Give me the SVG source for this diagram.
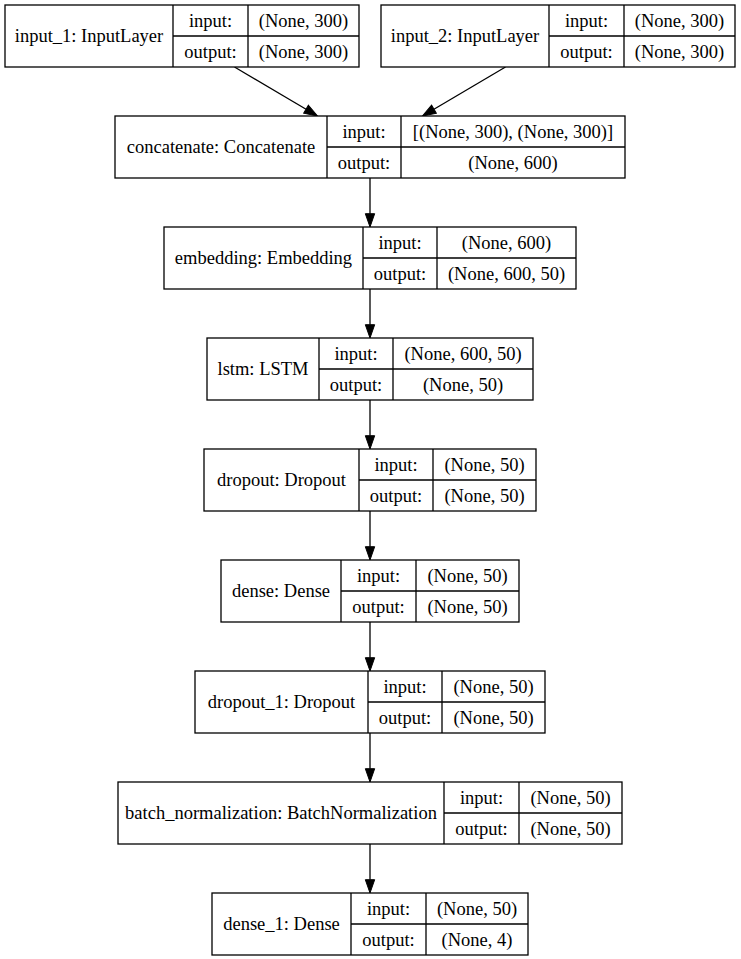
<svg xmlns="http://www.w3.org/2000/svg" width="741" height="959" viewBox="0 0 741 959">
<style>
  .box { fill: #fff; stroke: #000; stroke-width: 1.3; }
  .div { stroke: #000; stroke-width: 1.3; fill: none; }
  .edge { stroke: #000; stroke-width: 1.3; fill: none; marker-end: url(#arrow); }
</style>
<defs>
  <marker id="arrow" markerUnits="userSpaceOnUse" markerWidth="14" markerHeight="10" refX="0" refY="4.67" orient="auto" overflow="visible">
    <path d="M0,0 L13.3,4.67 L0,9.33 z" fill="#000" stroke="#000" stroke-width="1"/>
  </marker>
</defs>
<rect width="741" height="959" fill="#fff"/>

<g id="connectors">
  <line class="edge" x1="234.5" y1="67" x2="306.05" y2="109.24"/>
  <line class="edge" x1="505.5" y1="67" x2="433.95" y2="109.24"/>
  <line class="edge" x1="370" y1="178" x2="370" y2="213.7"/>
  <line class="edge" x1="370" y1="289" x2="370" y2="324.7"/>
  <line class="edge" x1="370" y1="400" x2="370" y2="435.7"/>
  <line class="edge" x1="370" y1="511" x2="370" y2="546.7"/>
  <line class="edge" x1="370" y1="622" x2="370" y2="657.7"/>
  <line class="edge" x1="370" y1="733" x2="370" y2="768.7"/>
  <line class="edge" x1="370" y1="844" x2="370" y2="879.7"/>
</g>

<g font-family="Liberation Serif, serif" font-size="18.5" fill="#000" text-anchor="middle">
<g id="input_1">
  <rect class="box" x="5" y="5" width="354" height="62"/>
  <path class="div" d="M173,5 V67 M248,5 V67 M173,36 H359"/>
  <text x="89" y="42">input_1: InputLayer</text>
  <text x="210.5" y="26.5">input:</text>
  <text x="210.5" y="57.5">output:</text>
  <text x="303.5" y="26.5">(None, 300)</text>
  <text x="303.5" y="57.5">(None, 300)</text>
</g>

<g id="input_2">
  <rect class="box" x="381" y="5" width="354" height="62"/>
  <path class="div" d="M549,5 V67 M624,5 V67 M549,36 H735"/>
  <text x="465" y="42">input_2: InputLayer</text>
  <text x="586.5" y="26.5">input:</text>
  <text x="586.5" y="57.5">output:</text>
  <text x="679.5" y="26.5">(None, 300)</text>
  <text x="679.5" y="57.5">(None, 300)</text>
</g>

<g id="concatenate">
  <rect class="box" x="115" y="116" width="510" height="62"/>
  <path class="div" d="M327,116 V178 M401,116 V178 M327,147 H625"/>
  <text x="221" y="153">concatenate: Concatenate</text>
  <text x="364" y="137.5">input:</text>
  <text x="364" y="168.5">output:</text>
  <text x="513" y="137.5">[(None, 300), (None, 300)]</text>
  <text x="513" y="168.5">(None, 600)</text>
</g>

<g id="embedding">
  <rect class="box" x="164" y="227" width="412" height="62"/>
  <path class="div" d="M363,227 V289 M437,227 V289 M363,258 H576"/>
  <text x="263.5" y="264">embedding: Embedding</text>
  <text x="400" y="248.5">input:</text>
  <text x="400" y="279.5">output:</text>
  <text x="506.5" y="248.5">(None, 600)</text>
  <text x="506.5" y="279.5">(None, 600, 50)</text>
</g>

<g id="lstm">
  <rect class="box" x="207" y="338" width="326" height="62"/>
  <path class="div" d="M319,338 V400 M393,338 V400 M319,369 H533"/>
  <text x="263" y="375">lstm: LSTM</text>
  <text x="356" y="359.5">input:</text>
  <text x="356" y="390.5">output:</text>
  <text x="463" y="359.5">(None, 600, 50)</text>
  <text x="463" y="390.5">(None, 50)</text>
</g>

<g id="dropout">
  <rect class="box" x="204" y="449" width="332" height="62"/>
  <path class="div" d="M359,449 V511 M433,449 V511 M359,480 H536"/>
  <text x="281.5" y="486">dropout: Dropout</text>
  <text x="396" y="470.5">input:</text>
  <text x="396" y="501.5">output:</text>
  <text x="484.5" y="470.5">(None, 50)</text>
  <text x="484.5" y="501.5">(None, 50)</text>
</g>

<g id="dense">
  <rect class="box" x="221" y="560" width="298" height="62"/>
  <path class="div" d="M341,560 V622 M416,560 V622 M341,591 H519"/>
  <text x="281" y="597">dense: Dense</text>
  <text x="378.5" y="581.5">input:</text>
  <text x="378.5" y="612.5">output:</text>
  <text x="467.5" y="581.5">(None, 50)</text>
  <text x="467.5" y="612.5">(None, 50)</text>
</g>

<g id="dropout_1">
  <rect class="box" x="195" y="671" width="350" height="62"/>
  <path class="div" d="M368,671 V733 M442,671 V733 M368,702 H545"/>
  <text x="281.5" y="708">dropout_1: Dropout</text>
  <text x="405" y="692.5">input:</text>
  <text x="405" y="723.5">output:</text>
  <text x="493.5" y="692.5">(None, 50)</text>
  <text x="493.5" y="723.5">(None, 50)</text>
</g>

<g id="batch_normalization">
  <rect class="box" x="118" y="782" width="504" height="62"/>
  <path class="div" d="M444,782 V844 M519,782 V844 M444,813 H622"/>
  <text x="281" y="819">batch_normalization: BatchNormalization</text>
  <text x="481.5" y="803.5">input:</text>
  <text x="481.5" y="834.5">output:</text>
  <text x="570.5" y="803.5">(None, 50)</text>
  <text x="570.5" y="834.5">(None, 50)</text>
</g>

<g id="dense_1">
  <rect class="box" x="212" y="893" width="316" height="62"/>
  <path class="div" d="M351,893 V955 M426,893 V955 M351,924 H528"/>
  <text x="281.5" y="930">dense_1: Dense</text>
  <text x="388.5" y="914.5">input:</text>
  <text x="388.5" y="945.5">output:</text>
  <text x="477" y="914.5">(None, 50)</text>
  <text x="477" y="945.5">(None, 4)</text>
</g>
</g>
</svg>
